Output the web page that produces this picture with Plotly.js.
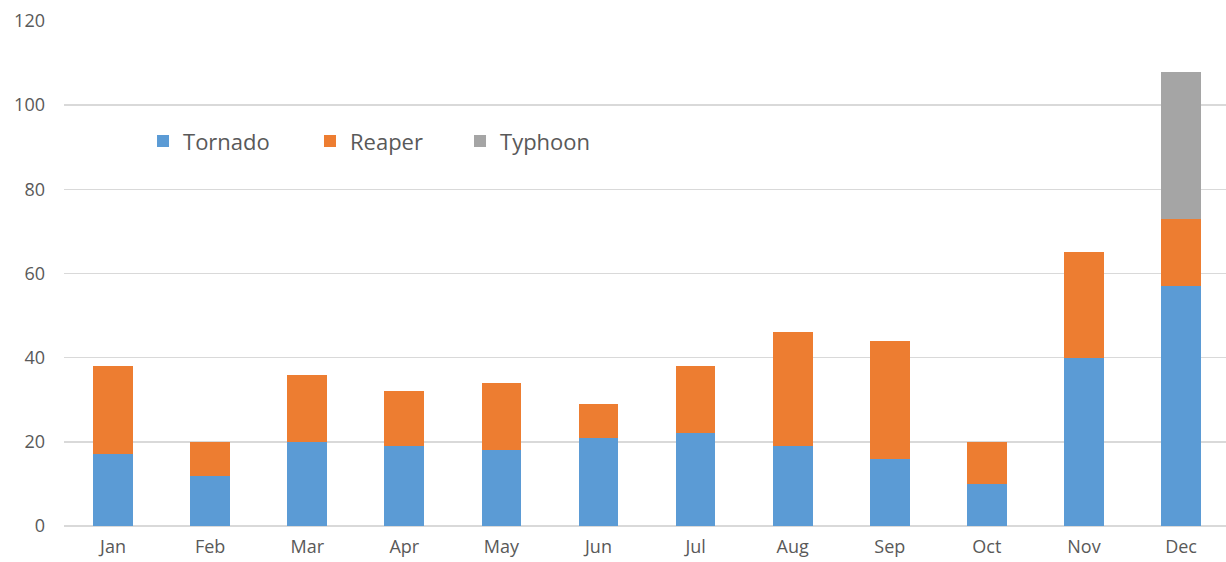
<!DOCTYPE html>
<html>
<head>
<meta charset="utf-8">
<script src="https://cdn.plot.ly/plotly-3.0.1.min.js"></script>
<style>html,body{margin:0;padding:0;background:#fff;}#chart{width:1226px;height:562px;}</style>
</head>
<body>
<div id="chart"></div>
<script>
const months = ["Jan","Feb","Mar","Apr","May","Jun","Jul","Aug","Sep","Oct","Nov","Dec"];
const tornado = [17,12,20,19,18,21,22,19,16,10,40,57];
const reaper = [21,8,16,13,16,8,16,27,28,10,25,16];
const typhoon = [0,0,0,0,0,0,0,0,0,0,0,35];
const seriesNames = ["Tornado","Reaper","Typhoon"];
const colors = ["#5B9BD5","#ED7D31","#A5A5A5"];
const legendIds = ["legend","legend2","legend3"];
const data = [tornado, reaper, typhoon].map((v,i)=>({
  type:"bar", name:seriesNames[i], x:months, y:v, legend:legendIds[i],
  marker:{color:colors[i], line:{width:0}}, hoverinfo:"x+y+name"
}));
const legendBase = {orientation:"h", y:0.762, xanchor:"left", yanchor:"middle", font:{size:22,color:"#595959"}, bgcolor:"rgba(0,0,0,0)"};
const layout = {
  width:1226, height:562, barmode:"stack", bargap:0.59,
  margin:{l:64,r:0,t:21,b:36},
  paper_bgcolor:"#fff", plot_bgcolor:"#fff",
  font:{family:"'Open Sans', sans-serif", color:"#595959", size:18},
  xaxis:{range:[-0.505,11.463], showgrid:false, zeroline:false, showline:false, ticks:"", tickfont:{size:18,color:"#595959"}, ticklabelstandoff:8},
  yaxis:{range:[0,120], dtick:20, showgrid:true, gridcolor:"#D9D9D9", gridwidth:1.5, zeroline:true, zerolinecolor:"#D9D9D9", zerolinewidth:1.5, showline:false, ticks:"", tickfont:{size:18,color:"#595959"}, ticklabelstandoff:18},
  legend:Object.assign({x:0.068}, legendBase),
  legend2:Object.assign({x:0.2117}, legendBase),
  legend3:Object.assign({x:0.3408}, legendBase),
  showlegend:true
};
Plotly.newPlot("chart", data, layout, {displayModeBar:false, staticPlot:true});
</script>
</body>
</html>
